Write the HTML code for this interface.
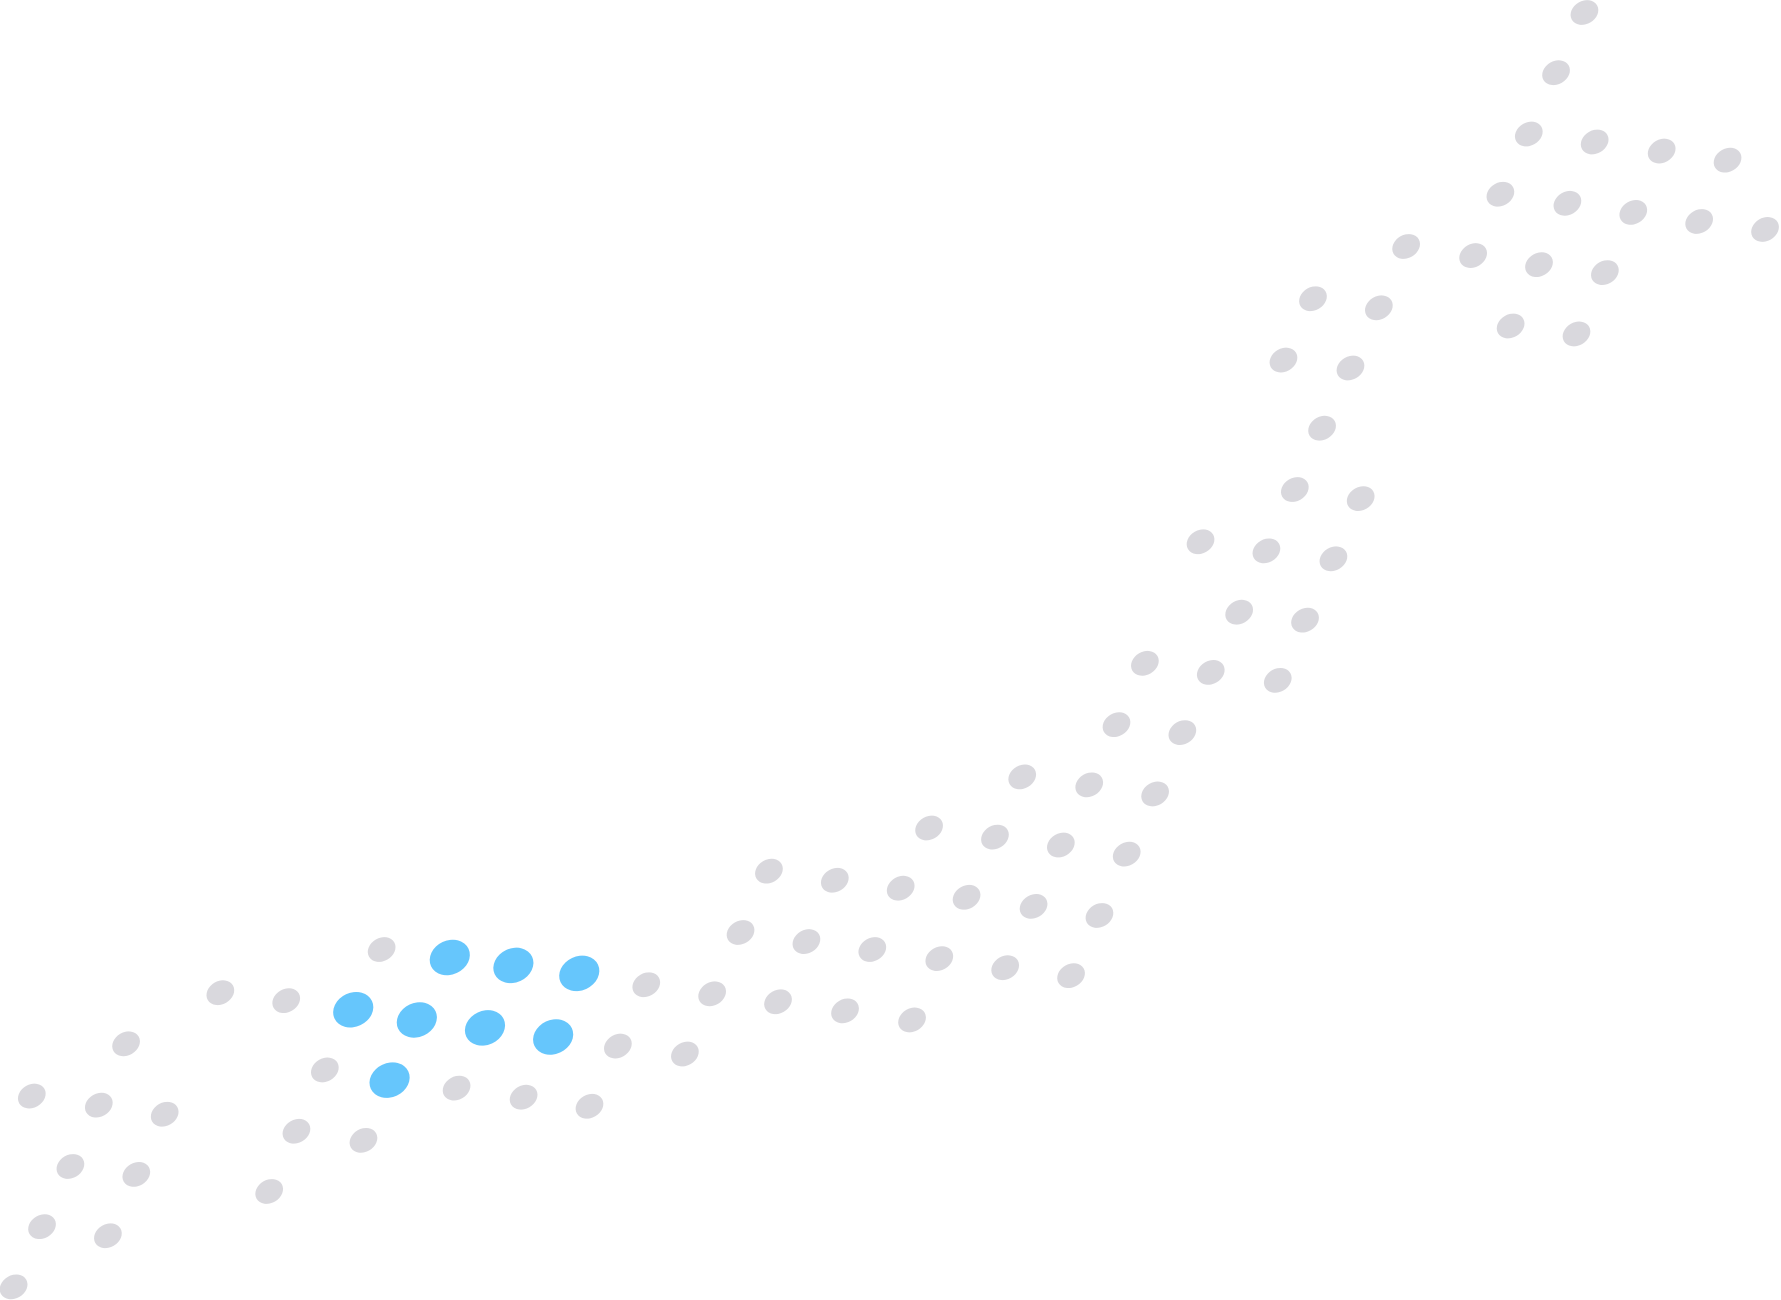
<!DOCTYPE html>
<html><head><meta charset="utf-8"><style>html,body{margin:0;padding:0;background:#fff;width:1781px;height:1300px;overflow:hidden}</style></head>
<body>
<svg width="1781" height="1300" viewBox="0 0 1781 1300" xmlns="http://www.w3.org/2000/svg">
<g transform="scale(1.1358)" id="g"></g>
</svg>
<script>
var gray=[[1395,11],[1370,64],[1346,118],[1404,125],[1463,133],[1521,141],[1321,171],[1380,179],[1438,187],[1496,195],[1554,202],[1238,217],[1297,225],[1355,233],[1413,240],[1156,263],[1214,271],[1330,287],[1388,294],[1130,317],[1189,324],[1164,377],[1140,431],[1198,439],[1057,477],[1115,485],[1174,492],[1091,539],[1149,546],[1008,584],[1066,592],[1125,599],[983,638],[1041,645],[900,684],[959,691],[1017,699],[818,729],[876,737],[934,744],[992,752],[677,767],[735,775],[793,782],[851,790],[910,798],[968,806],[652,821],[710,829],[768,836],[827,844],[885,852],[943,859],[336,836],[569,867],[627,875],[685,882],[744,890],[803,898],[194,874],[252,881],[111,919],[544,921],[603,928],[286,942],[402,958],[461,966],[519,974],[28,965],[87,973],[145,981],[261,996],[320,1004],[62,1027],[120,1034],[237,1049],[37,1080],[95,1088],[12,1133]];
var blue=[[396,843],[452,850],[510,857],[311,889],[367,898],[427,905],[487,913],[343,951]];
var g=document.getElementById('g'),s='';
gray.forEach(function(p){s+='<ellipse cx="'+p[0]+'" cy="'+p[1]+'" rx="12.8" ry="10.2" fill="#d9d8dd" transform="rotate(-30 '+p[0]+' '+p[1]+')"/>';});
blue.forEach(function(p){s+='<ellipse cx="'+p[0]+'" cy="'+p[1]+'" rx="18.2" ry="15" fill="#66c6fc" transform="rotate(-25 '+p[0]+' '+p[1]+')"/>';});
g.innerHTML=s;
</script>
</body></html>
